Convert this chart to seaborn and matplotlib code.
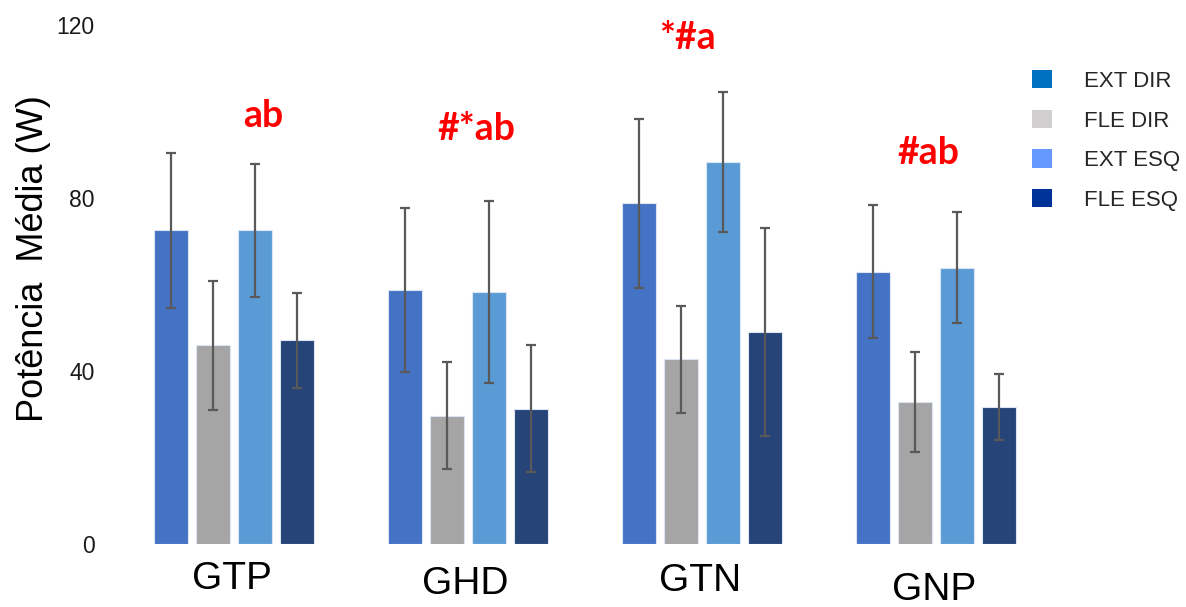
import matplotlib
matplotlib.use("Agg")
import matplotlib.pyplot as plt
import matplotlib.font_manager as fm
from matplotlib.patches import Patch
import matplotlib.transforms as mtransforms
import seaborn as sns
import pandas as pd
import numpy as np

# ---- data ----
groups = ["GTP", "GHD", "GTN", "GNP"]
series = ["EXT DIR", "FLE DIR", "EXT ESQ", "FLE ESQ"]
ext_dir = [72.5, 58.7, 78.8, 63.0]
fle_dir = [45.9, 29.7, 42.7, 32.8]
ext_esq = [72.5, 58.2, 88.4, 63.9]
fle_esq = [47.1, 31.3, 49.0, 31.6]
err_ext_dir = [18.0, 19.0, 19.5, 15.3]
err_fle_dir = [15.0, 12.4, 12.3, 11.5]
err_ext_esq = [15.3, 21.0, 16.2, 12.8]
err_fle_esq = [11.0, 14.7, 24.0, 7.6]
annotations = ["ab", "#*ab", "*#a", "#ab"]
annot_y = [99.0, 96.0, 117.0, 90.3]
annot_dx = [0.124, 0.034, -0.064, -0.034]
yticks = [0, 40, 80, 120]

bar_colors = ["#4472C4", "#A5A5A5", "#5B9BD5", "#264478"]
legend_colors = ["#0070C0", "#D0CECE", "#6699FF", "#003399"]

names = {f.name for f in fm.fontManager.ttflist}
narrow = "Liberation Sans Narrow" if "Liberation Sans Narrow" in names else "Liberation Sans"
annot_font = "Lato" if "Lato" in names else "DejaVu Sans"

sns.set_theme(style="white")
plt.rcParams["font.family"] = ["Liberation Sans", "DejaVu Sans"]

vals = [ext_dir, fle_dir, ext_esq, fle_esq]
errs = [err_ext_dir, err_fle_dir, err_ext_esq, err_fle_esq]
rows = []
for s, v, e in zip(series, vals, errs):
    for g, vi, ei in zip(groups, v, e):
        rows.append({"group": g, "series": s, "value": vi, "err": ei})
df = pd.DataFrame(rows)

fig = plt.figure(figsize=(11.86, 6.07), dpi=100)
ax = fig.add_axes([117 / 1186, 1 - 544 / 607, 936 / 1186, 519 / 607])

sns.barplot(data=df, x="group", y="value", hue="series", order=groups,
            hue_order=series, palette=bar_colors, width=0.72, gap=0.2,
            saturation=1, errorbar=None, ax=ax, legend=False,
            linewidth=0.8, edgecolor="#dce6f2")

# error bars from bar positions
bar_containers = list(ax.containers)
for s_idx, cont in enumerate(bar_containers):
    xs = [p.get_x() + p.get_width() / 2 for p in cont.patches]
    hs = [p.get_height() for p in cont.patches]
    ax.errorbar(xs, hs, yerr=errs[s_idx], fmt="none", ecolor="#595959",
                elinewidth=1.6, capsize=3.5, capthick=1.6, zorder=5)

ax.set_ylim(0, 120)
ax.set_xlim(-0.5, 3.5)
ax.set_yticks(yticks)
ax.set_yticklabels([str(t) for t in yticks], fontsize=16.5, color="#1a1a1a")
ax.tick_params(axis="y", length=0, pad=16)
ax.tick_params(axis="x", length=0)
ax.set_xticks(range(len(groups)))
ax.set_xticklabels([])
ax.set_xlabel("")
ax.set_ylabel("Potência  Média (W)", fontsize=26, color="black")
ax.yaxis.set_label_coords(-0.070, 0.55)
for sp in ax.spines.values():
    sp.set_visible(False)
ax.grid(False)

# group labels (staggered as in original)
label_y = [-0.068, -0.078, -0.071, -0.089]
trans = mtransforms.blended_transform_factory(ax.transData, ax.transAxes)
for i, g in enumerate(groups):
    ax.text(i - 0.01, label_y[i], g, transform=trans, ha="center", va="center",
            fontsize=28, family=narrow, color="black", clip_on=False)

# significance annotations
for i, t in enumerate(annotations):
    ax.text(i + annot_dx[i], annot_y[i], t, ha="center", va="center",
            fontsize=27, fontweight="bold", color="#FF0000",
            family=annot_font, clip_on=False)

handles = [Patch(facecolor=c, edgecolor="none") for c in legend_colors]
fig.legend(handles, series, loc="upper left",
           bbox_to_anchor=(1032 / 1186, 1 - 70 / 607), frameon=False,
           fontsize=16, handlelength=0.9, handleheight=0.9,
           handletextpad=1.45, labelspacing=0.8, borderpad=0, borderaxespad=0)

fig.savefig("out.png", dpi=100)
